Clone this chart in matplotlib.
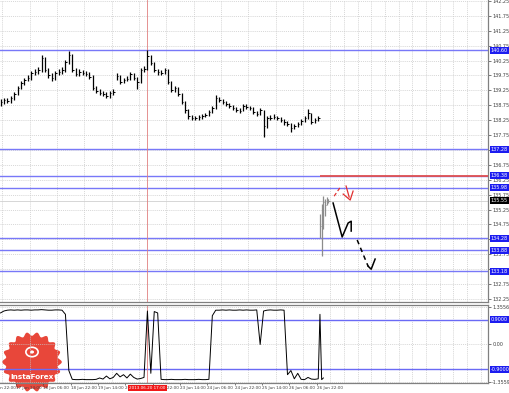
import numpy as np
import matplotlib
matplotlib.use("Agg")
import matplotlib.pyplot as plt
from matplotlib.patches import Polygon, Circle
from matplotlib.transforms import blended_transform_factory as blend

# ---------------- data ----------------
closes = [138.86, 138.92, 138.89, 138.99, 139.13, 139.33, 139.49, 139.60, 139.66, 139.83,
          139.86, 139.93, 140.33, 139.93, 139.76, 139.66, 139.83, 139.86, 139.93, 140.20,
          140.43, 139.93, 139.80, 139.86, 139.83, 139.80, 139.70, 139.33, 139.23, 139.16,
          139.13, 139.06, 139.16, 139.19, 139.73, 139.53, 139.60, 139.63, 139.80, 139.66,
          139.53, 139.93, 139.96, 140.40, 140.17, 139.93, 139.86, 139.83, 139.93, 139.53,
          139.26, 139.33, 139.13, 138.86, 138.59, 138.39, 138.32, 138.32, 138.35, 138.39,
          138.42, 138.52, 138.66, 138.99, 138.92, 138.86, 138.79, 138.72, 138.66, 138.59,
          138.56, 138.72, 138.69, 138.66, 138.52, 138.45, 138.59, 138.05, 138.32, 138.32,
          138.35, 138.32, 138.25, 138.19, 138.12, 137.98, 138.05, 138.12, 138.22, 138.32,
          138.49, 138.19, 138.25, 138.32]
highs = [138.95, 139.00, 138.98, 139.06, 139.20, 139.40, 139.56, 139.68, 139.75, 139.90,
         139.95, 140.02, 140.45, 140.38, 140.00, 139.82, 139.90, 139.95, 140.02, 140.28,
         140.58, 140.48, 140.00, 139.95, 139.93, 139.90, 139.86, 139.75, 139.40, 139.30,
         139.24, 139.20, 139.24, 139.28, 139.82, 139.75, 139.68, 139.72, 139.88, 139.84,
         139.70, 140.00, 140.05, 140.60, 140.45, 140.20, 139.98, 139.92, 140.00, 139.95,
         139.56, 139.40, 139.36, 139.15, 138.90, 138.62, 138.42, 138.40, 138.42, 138.46,
         138.50, 138.58, 138.72, 139.10, 139.02, 138.95, 138.90, 138.82, 138.76, 138.70,
         138.65, 138.80, 138.78, 138.74, 138.68, 138.56, 138.66, 138.60, 138.40, 138.42,
         138.44, 138.40, 138.36, 138.28, 138.22, 138.15, 138.12, 138.18, 138.28, 138.38,
         138.62, 138.50, 138.32, 138.38]
lows = [138.74, 138.80, 138.82, 138.84, 138.94, 139.08, 139.28, 139.44, 139.55, 139.60,
        139.76, 139.80, 139.88, 139.85, 139.68, 139.55, 139.60, 139.76, 139.80, 139.88,
        140.12, 139.86, 139.72, 139.74, 139.75, 139.72, 139.62, 139.26, 139.15, 139.08,
        139.05, 138.98, 139.00, 139.10, 139.60, 139.46, 139.50, 139.55, 139.60, 139.58,
        139.28, 139.50, 139.86, 139.92, 140.10, 139.86, 139.78, 139.75, 139.80, 139.45,
        139.18, 139.20, 139.05, 138.78, 138.50, 138.30, 138.25, 138.24, 138.26, 138.30,
        138.34, 138.40, 138.50, 138.62, 138.85, 138.78, 138.72, 138.65, 138.58, 138.52,
        138.48, 138.54, 138.62, 138.58, 138.45, 138.38, 138.42, 137.70, 138.00, 138.25,
        138.28, 138.24, 138.18, 138.10, 138.04, 137.85, 137.95, 138.02, 138.10, 138.20,
        138.30, 138.12, 138.16, 138.22]

live_close = [134.70, 135.00, 135.50, 135.40, 135.60, 135.55]
live_high = [135.10, 135.45, 135.70, 135.62, 135.68, 135.62]
live_low = [134.28, 133.70, 134.60, 135.05, 135.40, 135.48]

ind_vals = [1.15, 1.22, 1.25, 1.26, 1.25, 1.26, 1.25, 1.26, 1.26, 1.25,
            1.26, 1.26, 1.27, 1.26, 1.25, 1.25, 1.26, 1.26, 1.25, 1.10,
            -0.95, -1.27, -1.28, -1.28, -1.27, -1.28, -1.28, -1.28, -1.27, -1.22,
            -1.26, -1.15, -1.25, -1.20, -1.05, -1.18, -1.10, -1.22, -1.08, -1.20,
            -1.26, -1.24, -1.20, 1.22, -1.05, 1.20, 1.15, -1.27, -1.28, -1.28,
            -1.27, -1.28, -1.28, -1.28, -1.27, -1.28, -1.28, -1.28, -1.27, -1.28,
            -1.28, -1.27, 1.05, 1.25, 1.25, 1.26, 1.25, 1.26, 1.25, 1.25,
            1.26, 1.25, 1.26, 1.25, 1.25, 1.26, 0.00, 1.22, 1.25, 1.26,
            1.25, 1.25, 1.26, 1.25, -1.10, -0.95, -1.25, -1.05, -1.27, -1.28,
            -1.20, -1.26, -1.27, -1.25, 1.10, -1.28, -1.22]

blue_levels = [140.60, 137.28, 136.38, 135.98, 134.28, 133.88, 133.18]
red_level = 136.38
bid_price = 135.55
ind_levels = [0.9, -0.9]
ind_tick_vals = [1.3556, 0.0, -1.3559]
ind_tick_text = ["1.3556", "0.00", "-1.3559"]
time_labels = ["17 Jun 14:00", "18 Jun 06:00", "18 Jun 22:00", "19 Jun 14:00",
               "20 Jun 06:00", "21 Jun 22:00", "23 Jun 14:00", "24 Jun 06:00",
               "24 Jun 22:00", "25 Jun 14:00", "26 Jun 06:00", "26 Jun 22:00"]
first_label = "16 Jun 22:00"
cursor_bar = 86
cursor_label = "2013.06.20 17:00"

# hand-drawn forecast arrows (bar index, price)
black_solid_x = [194.7, 200.0, 203.5, 205.3, 205.3]
black_solid_y = [135.47, 134.33, 134.80, 134.86, 134.53]
black_dash_x = [208.8, 215.2]
black_dash_y = [134.23, 133.35]
black_head_x = [215.2, 217.0, 219.3]
black_head_y = [133.35, 133.25, 133.59]
red_dash_x = [195.3, 199.4]
red_dash_y = [135.70, 136.04]
red_line_x = [202.3, 204.1]
red_line_y = [136.04, 135.67]
red_head_x = [200.6, 204.7, 206.4]
red_head_y = [135.77, 135.57, 135.87]

# ---------------- layout ----------------
W, H = 510, 393
PXB = 1.71                      # pixels per bar
XMAX = 488 / PXB
FS = 3.5
FSX = 3.0

fig = plt.figure(figsize=(W / 100, H / 100), dpi=100)
fig.patch.set_facecolor("white")
ax = fig.add_axes([0, (H - 302) / H, 488 / W, 302 / H])
ax2 = fig.add_axes([0, (H - 383) / H, 488 / W, 78 / H], sharex=ax)
ax2.set_facecolor("none")
ax.set_facecolor("white")

main_x = np.arange(len(closes)) * 2
live_x = 187 + np.arange(len(live_close))
ind_x = np.concatenate([main_x, live_x[:len(ind_vals) - len(main_x)]])

grid_kw = dict(color="#c8c8c8", linestyle=(0, (1.5, 1.5)), linewidth=0.5)
tick_bars = 9 + 16 * np.arange(len(time_labels))
grid_bars = 1 + 8 * np.arange(36)

for a in (ax, ax2):
    a.set_xlim(-0.3, XMAX)
    a.xaxis.set_minor_locator(matplotlib.ticker.FixedLocator(grid_bars))
    a.grid(which="minor", axis="x", **grid_kw)
    a.grid(which="major", axis="y", **grid_kw)
    a.set_axisbelow(True)
    a.yaxis.tick_right()
    a.tick_params(axis="y", which="major", direction="out", length=2, width=0.5,
                  labelsize=FS, pad=1, colors="#404040")
    a.tick_params(axis="x", which="minor", length=0)
    for s in ("left", "top", "right", "bottom"):
        a.spines[s].set_color("#808080")
        a.spines[s].set_linewidth(0.9)
    a.spines["left"].set_visible(False)
ax.spines["top"].set_visible(False)

# main panel
ax.set_ylim(132.15, 142.28)
yt = 132.25 + 0.5 * np.arange(21)
ax.set_yticks(yt)
ax.set_yticklabels([f"{v:.2f}" for v in yt])
for v, lbl in zip(yt, ax.get_yticklabels()):
    if min(abs(v - b) for b in blue_levels + [bid_price]) < 0.09:
        lbl.set_visible(False)
ax.tick_params(axis="x", which="major", length=0, labelbottom=False)

for lv in blue_levels:
    ax.axhline(lv, color="#7878f8", lw=1.0, zorder=2)
ax.axhline(bid_price, color="#d0d0d0", lw=0.6, zorder=2)
ax.hlines(red_level, 187, XMAX, color="#e05050", lw=1.3, zorder=3)
ax.axvline(cursor_bar, color="#e08080", lw=0.6, zorder=2)

ax.vlines(main_x, lows, highs, color="black", lw=0.9, zorder=4)
ax.hlines(closes, main_x, main_x + 0.9, color="black", lw=0.7, zorder=4)
ax.vlines(live_x, live_low, live_high, color="#8c8c8c", lw=0.9, zorder=4)
ax.hlines(live_close, live_x, live_x + 0.6, color="#8c8c8c", lw=0.7, zorder=4)

ax.plot(black_solid_x, black_solid_y, color="black", lw=1.1, zorder=5)
ax.plot(black_dash_x, black_dash_y, color="black", lw=1.1, ls=(0, (3, 2.5)), zorder=5)
ax.plot(black_head_x, black_head_y, color="black", lw=1.1, zorder=5)
ax.plot(red_dash_x, red_dash_y, color="#e03030", lw=0.9, ls=(0, (3, 2)), zorder=5)
ax.plot(red_line_x, red_line_y, color="#e03030", lw=0.9, zorder=5)
ax.plot(red_head_x, red_head_y, color="#e03030", lw=0.9, zorder=5)

rt = blend(ax.transAxes, ax.transData)
for lv in blue_levels:
    ax.text(1.006, lv, f"{lv:.2f}", transform=rt, ha="left", va="center", fontsize=FS,
            color="white", clip_on=False, zorder=10,
            bbox=dict(boxstyle="square,pad=0.2", fc="#1c1cf0", ec="none"))
ax.text(1.006, bid_price, f"{bid_price:.2f}", transform=rt, ha="left", va="center",
        fontsize=FS, color="white", clip_on=False, zorder=10,
        bbox=dict(boxstyle="square,pad=0.2", fc="black", ec="none"))

# indicator panel
ax2.set_ylim(-1.403, 1.439)
ax2.set_yticks(ind_tick_vals)
ax2.set_yticklabels(ind_tick_text)
for lv in ind_levels:
    ax2.axhline(lv, color="#6a6af5", lw=1.0, zorder=2)
ax2.axvline(cursor_bar, color="#e08080", lw=0.6, zorder=2)
ax2.plot(ind_x, ind_vals, color="black", lw=0.7, zorder=4)
rt2 = blend(ax2.transAxes, ax2.transData)
for lv in ind_levels:
    ax2.text(1.006, lv, f"{lv:.4f}", transform=rt2, ha="left", va="center", fontsize=FS,
             color="white", clip_on=False, zorder=10,
             bbox=dict(boxstyle="square,pad=0.2", fc="#1c1cf0", ec="none"))

ax2.set_xticks(tick_bars)
ax2.set_xticklabels(time_labels)
ax2.tick_params(axis="x", which="major", direction="out", length=1.5, width=0.5,
                labelsize=FSX, pad=0.6, colors="#404040")
for lbl in ax2.get_xticklabels():
    lbl.set_ha("left")
bt = blend(ax2.transData, ax2.transAxes)
ax2.text(-7 + 0.8, -0.04, first_label, transform=bt, ha="left", va="top", fontsize=FSX,
         color="#404040", clip_on=False)
ax2.text(cursor_bar, -0.035, cursor_label, transform=bt, ha="center", va="top",
         fontsize=FSX, color="white", clip_on=False, zorder=10,
         bbox=dict(boxstyle="square,pad=0.25", fc="#f01818", ec="none"))

# InstaForex badge
cx, cy, r = 32, 362, 28
th = np.linspace(0, 2 * np.pi, 400)
rr = r + 1.8 * np.cos(18 * th)
pts = np.column_stack([(cx + rr * np.cos(th)) / W, 1 - (cy + rr * np.sin(th)) / H])
fig.patches.append(Polygon(pts, closed=True, transform=fig.transFigure,
                           fc="#e8473a", ec="none", zorder=-1))
fig.patches.append(Circle(((cx) / W, 1 - 352 / H), 0.012, transform=fig.transFigure,
                          fc="none", ec="white", lw=1.2, zorder=-1))
fig.patches.append(Circle(((cx) / W, 1 - 352 / H), 0.004, transform=fig.transFigure,
                          fc="white", ec="none", zorder=-1))
fig.text(cx / W, 1 - 377 / H, "InstaForex", ha="center", va="center", fontsize=5.2,
         color="white", fontweight="bold", zorder=-1)

fig.savefig("out.png", dpi=100, facecolor="white")
